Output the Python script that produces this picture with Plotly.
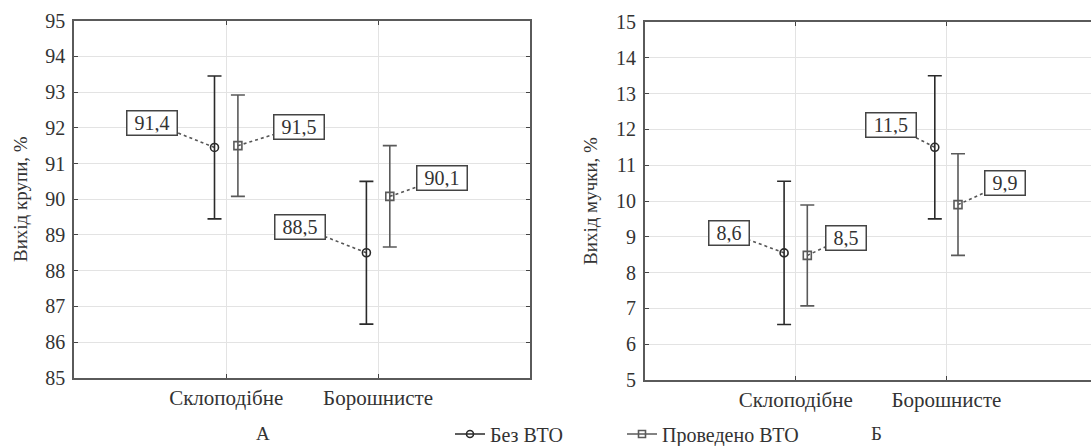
import plotly.graph_objects as go

# ---------------- data ----------------
categories = ["Склоподібне", "Борошнисте"]
series_names = ["Без ВТО", "Проведено ВТО"]

# Panel A: Вихід крупи, %
a_bez_mean = [91.45, 88.5]
a_bez_err = [2.0, 2.0]
a_bez_labels = ["91,4", "88,5"]
a_vto_mean = [91.5, 90.08]
a_vto_err = [1.42, 1.42]
a_vto_labels = ["91,5", "90,1"]

# Panel Б: Вихід мучки, %
b_bez_mean = [8.55, 11.5]
b_bez_err = [2.0, 2.0]
b_bez_labels = ["8,6", "11,5"]
b_vto_mean = [8.48, 9.9]
b_vto_err = [1.41, 1.42]
b_vto_labels = ["8,5", "9,9"]

a_yticks = list(range(85, 96))
b_yticks = list(range(5, 16))

# label offsets (dx in category units, dy in value units)
a_bez_off = [(-0.41, 0.69), (-0.435, 0.72)]
a_vto_off = [(0.40, 0.53), (0.344, 0.50)]
b_bez_off = [(-0.366, 0.57), (-0.292, 0.63)]
b_vto_off = [(0.254, 0.50), (0.314, 0.59)]

# --------------- styling ---------------
FONT = "'Liberation Serif', 'Times New Roman', 'DejaVu Serif', serif"
SHIFT = 0.077
C_BEZ = "#2a2a2a"
C_VTO = "#5a5a5a"
TXT = "#333333"
W, H = 1091, 446

fig = go.Figure()
xpos = [i + 1 for i in range(len(categories))]


def add_series(mean, err, shift, color, symbol, name, xa, ya):
    fig.add_trace(go.Scatter(
        x=[p + shift for p in xpos], y=mean, mode="markers", name=name,
        xaxis=xa, yaxis=ya, showlegend=False,
        marker=dict(symbol=symbol, size=8, color=color,
                    line=dict(color=color, width=1.6)),
        error_y=dict(type="data", array=err, visible=True, color=color,
                     thickness=1.6, width=7),
    ))


def add_labels(mean, shift, labels, offs, xa, ya):
    for i, (m, lab, (dx, dy)) in enumerate(zip(mean, labels, offs)):
        px = xpos[i] + shift
        lx, ly = px + dx, m + dy
        fig.add_trace(go.Scatter(
            x=[px, lx], y=[m, ly], mode="lines", showlegend=False,
            xaxis=xa, yaxis=ya, hoverinfo="skip",
            line=dict(color="#555555", width=1.6, dash="3px,3px"),
        ))
        fig.add_annotation(
            x=lx, y=ly, xref=xa, yref=ya, text=lab, showarrow=False,
            font=dict(family=FONT, size=20, color=TXT),
            bgcolor="white", bordercolor="#444444", borderwidth=1.5,
            borderpad=2, width=10 * len(lab) + 5, height=19,
        )


# Panel A
add_labels(a_bez_mean, -SHIFT, a_bez_labels, a_bez_off, "x", "y")
add_labels(a_vto_mean, SHIFT, a_vto_labels, a_vto_off, "x", "y")
add_series(a_bez_mean, a_bez_err, -SHIFT, C_BEZ, "circle-open", series_names[0], "x", "y")
add_series(a_vto_mean, a_vto_err, SHIFT, C_VTO, "square-open", series_names[1], "x", "y")

# Panel Б
add_labels(b_bez_mean, -SHIFT, b_bez_labels, b_bez_off, "x2", "y2")
add_labels(b_vto_mean, SHIFT, b_vto_labels, b_vto_off, "x2", "y2")
add_series(b_bez_mean, b_bez_err, -SHIFT, C_BEZ, "circle-open", series_names[0], "x2", "y2")
add_series(b_vto_mean, b_vto_err, SHIFT, C_VTO, "square-open", series_names[1], "x2", "y2")

# legend entries (one legend box per series)
for name, color, symbol, leg in [(series_names[0], C_BEZ, "circle-open", "legend"),
                                 (series_names[1], C_VTO, "square-open", "legend2")]:
    fig.add_trace(go.Scatter(
        x=[None], y=[None], mode="lines+markers", name=name, xaxis="x", yaxis="y",
        legend=leg,
        marker=dict(symbol=symbol, size=7, color=color, line=dict(color=color, width=1.6)),
        line=dict(color=color, width=1.6),
    ))

axis_common = dict(
    showline=True, linecolor="#5a5a5a", linewidth=2,
    ticks="inside", ticklen=4, tickcolor="#444444", tickwidth=1,
    showgrid=True, gridcolor="#e3e3e3", gridwidth=1, zeroline=False,
    tickfont=dict(family=FONT, size=20, color=TXT),
)
xtickfont = dict(family=FONT, size=21, color=TXT)
legfont = dict(family=FONT, size=20, color=TXT)

fig.update_layout(
    width=W, height=H, margin=dict(l=0, r=0, t=0, b=0, autoexpand=False),
    paper_bgcolor="white", plot_bgcolor="white",
    font=dict(family=FONT, color=TXT),
    xaxis=dict(domain=[74.3 / W, 530 / W], range=[0, 3], anchor="y",
               tickvals=xpos, ticktext=categories, mirror="ticks",
               ticklabelstandoff=0, **{**axis_common, "tickfont": xtickfont}),
    yaxis=dict(domain=[1 - 377.7 / H, 1 - 20.7 / H], range=[85, 95], anchor="x",
               tickvals=a_yticks, mirror="ticks", ticklabelstandoff=3,
               title=dict(text="Вихід крупи, %", font=dict(family=FONT, size=19, color=TXT), standoff=13),
               **axis_common),
    xaxis2=dict(domain=[645 / W, 1.0], range=[0, (W - 645) / 150.7], anchor="y2",
                tickvals=xpos, ticktext=categories, mirror="ticks",
                ticklabelstandoff=0, **{**axis_common, "tickfont": xtickfont}),
    yaxis2=dict(domain=[1 - 380 / H, 1 - 22 / H], range=[5, 15], anchor="x2",
                tickvals=b_yticks, mirror=False, ticklabelstandoff=3,
                title=dict(text="Вихід мучки, %", font=dict(family=FONT, size=19, color=TXT), standoff=13),
                **axis_common),
    legend=dict(orientation="h", x=450 / W, xanchor="left", y=1 - 434 / H, yanchor="middle",
                font=legfont, bgcolor="rgba(0,0,0,0)"),
    legend2=dict(orientation="h", x=622 / W, xanchor="left", y=1 - 434 / H, yanchor="middle",
                 font=legfont, bgcolor="rgba(0,0,0,0)"),
    showlegend=True,
)

fig.add_annotation(x=263 / W, y=1 - 433 / H, xref="paper", yref="paper", text="А",
                   xanchor="center", yanchor="middle",
                   showarrow=False, font=dict(family=FONT, size=19, color=TXT))
fig.add_annotation(x=876 / W, y=1 - 433 / H, xref="paper", yref="paper", text="Б",
                   xanchor="center", yanchor="middle",
                   showarrow=False, font=dict(family=FONT, size=19, color=TXT))

fig.write_html("out.html")
